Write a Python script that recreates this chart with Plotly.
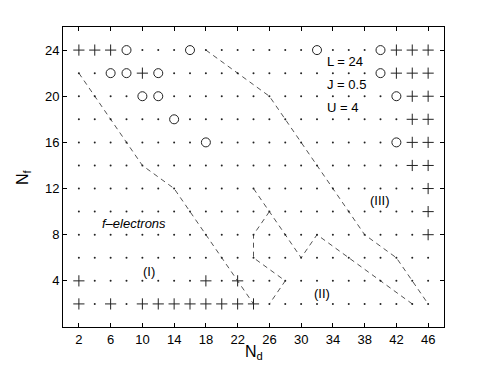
import numpy as np
import plotly.graph_objects as go

# lattice of (N_d, N_f) values that were computed
nd_values = list(range(2, 48, 2))
nf_values = list(range(2, 26, 2))

# points marked with "+"
plus_nd = [2, 4, 6, 42, 44, 46,
           10, 42, 44, 46,
           44, 46,
           44, 46,
           44, 46,
           44, 46,
           46,
           46,
           46,
           2, 18, 22,
           2, 6, 10, 12, 14, 16, 18, 20, 22, 24]
plus_nf = [24, 24, 24, 24, 24, 24,
           22, 22, 22, 22,
           20, 20,
           18, 18,
           16, 16,
           14, 14,
           12,
           10,
           8,
           4, 4, 4,
           2, 2, 2, 2, 2, 2, 2, 2, 2, 2]

# points marked with "o"
circ_nd = [8, 16, 32, 40,
           6, 8, 12, 40,
           10, 12, 42,
           14,
           18, 42]
circ_nf = [24, 24, 24, 24,
           22, 22, 22, 22,
           20, 20, 20,
           18,
           16, 16]

# phase boundaries (dashed)
bound1_nd = [2, 10, 14, 24]
bound1_nf = [22, 14, 12, 2]
bound2_nd = [18, 26, 38, 42, 46]
bound2_nf = [24, 20, 8, 6, 2]
bound3_nd = [24, 30, 32, 44]
bound3_nf = [12, 6, 8, 2]
bound4_nd = [26, 24, 24, 28, 26]
bound4_nf = [10, 8, 6, 4, 2]

x_ticks = list(range(2, 48, 4))
y_ticks = list(range(4, 26, 4))

marked = set(zip(plus_nd, plus_nf)) | set(zip(circ_nd, circ_nf))
dot_nd, dot_nf = [], []
for f in nf_values:
    for d in nd_values:
        if (d, f) not in marked:
            dot_nd.append(d)
            dot_nf.append(f)

ink = '#222222'
fam = 'Liberation Sans, Arial, sans-serif'
fig = go.Figure()

for bx, by in [(bound1_nd, bound1_nf), (bound2_nd, bound2_nf),
               (bound3_nd, bound3_nf), (bound4_nd, bound4_nf)]:
    fig.add_trace(go.Scatter(x=bx, y=by, mode='lines',
                             line=dict(color='#555555', width=1, dash='5px,4px')))

fig.add_trace(go.Scatter(x=dot_nd, y=dot_nf, mode='markers',
                         marker=dict(symbol='circle', size=2, color=ink)))
fig.add_trace(go.Scatter(x=plus_nd, y=plus_nf, mode='markers',
                         marker=dict(symbol='cross-thin', size=8, color=ink,
                                     line=dict(width=1, color=ink))))
fig.add_trace(go.Scatter(x=circ_nd, y=circ_nf, mode='markers',
                         marker=dict(symbol='circle-open', size=9, color=ink,
                                     line=dict(width=1, color=ink))))

font = dict(family=fam, size=13, color='black')

labels = [
    (33, 23, 'L = 24', 'left'),
    (33, 21, 'J = 0.5', 'left'),
    (33, 19, 'U = 4', 'left'),
    (9, 9, '<i>f–electrons</i>', 'center'),
    (10.8, 4.8, '(I)', 'center'),
    (32.6, 2.9, '(II)', 'center'),
    (39.9, 11, '(III)', 'center'),
]
for lx, ly, txt, anchor in labels:
    fig.add_annotation(x=lx, y=ly, text=txt, showarrow=False,
                       xanchor=anchor, yanchor='middle', font=font)

# axis titles placed close to the axes, as in the original
fig.add_annotation(x=0.5, y=-0.085, xref='paper', yref='paper',
                   text='N<sub>d</sub>', showarrow=False,
                   xanchor='center', yanchor='middle',
                   font=dict(family=fam, size=16, color='black'))
fig.add_annotation(x=-0.105, y=0.5, xref='paper', yref='paper',
                   text='N<sub>f</sub>', showarrow=False, textangle=-90,
                   xanchor='center', yanchor='middle',
                   font=dict(family=fam, size=16, color='black'))

axis_common = dict(showgrid=False, zeroline=False, showline=True,
                   linecolor='black', linewidth=1, mirror='ticks',
                   ticks='inside', ticklen=4, tickcolor='black',
                   tickfont=font, automargin=False)

# page body has an 8px margin, so the figure is 8px smaller than the window
fig.update_layout(
    width=483, height=361,
    margin=dict(l=55, r=47, t=19, b=42),
    plot_bgcolor='white', paper_bgcolor='white',
    showlegend=False,
    xaxis=dict(range=[0, 48], tickvals=x_ticks, **axis_common),
    yaxis=dict(range=[0, 26], tickvals=y_ticks, **axis_common),
)

fig.write_html("out.html")
